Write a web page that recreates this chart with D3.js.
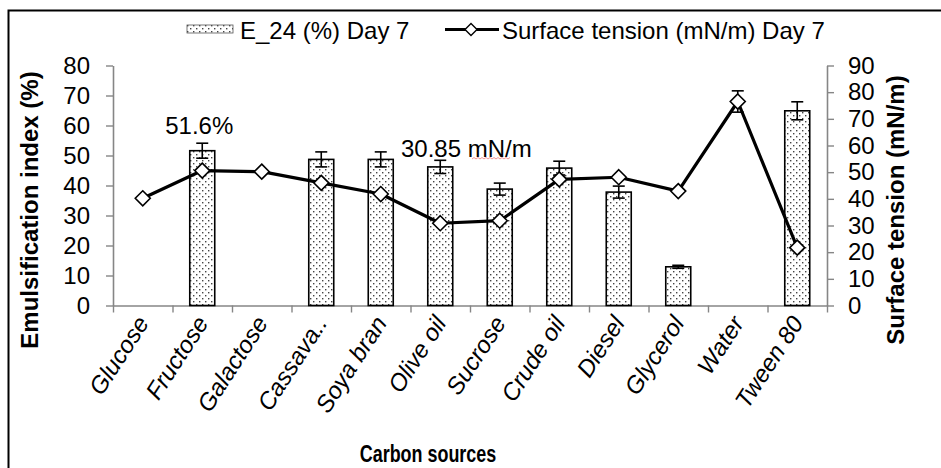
<!DOCTYPE html>
<html>
<head>
<meta charset="utf-8">
<script src="https://cdn.jsdelivr.net/npm/d3@7/dist/d3.min.js"></script>
<style>
  html, body { margin: 0; padding: 0; background: #fff; }
  svg { display: block; }
  text { font-family: "Liberation Sans", Arial, sans-serif; fill: #000; }
</style>
</head>
<body>
<svg id="chart" width="941" height="468"></svg>
<script>
// ---- data ----
const categories = ["Glucose","Fructose","Galactose","Cassava..","Soya bran","Olive oil","Sucrose","Crude oil","Diesel","Glycerol","Water","Tween 80"];
const e24Values   = [null, 51.6, null, 48.7, 48.7, 46.2, 38.8, 45.8, 37.8, 12.9, null, 64.9];
const e24Errors   = [null, 2.5,  null, 2.5,  2.5,  2.2,  2.0,  2.3,  2.0,  0.5,  null, 3.0];
const stValues    = [40.2, 50.6, 50.2, 46.0, 41.8, 30.85, 31.8, 47.3, 48.1, 42.9, 76.5, 21.7];
const stErrors    = [0, 0, 0, 0, 0, 0, 0, 0, 0, 0, 4.0, 0];
const leftTicks   = [0,10,20,30,40,50,60,70,80];
const rightTicks  = [0,10,20,30,40,50,60,70,80,90];
const seriesNames = ["E_24 (%) Day 7", "Surface tension (mN/m) Day 7"];
const annotations = ["51.6%", "30.85 mN/m"];

const svg = d3.select("#chart");
const axisColor = "#868686";

// pattern for bars
const defs = svg.append("defs");
const pat = defs.append("pattern").attr("id","dots").attr("patternUnits","userSpaceOnUse")
  .attr("width",6).attr("height",6);
pat.append("rect").attr("width",6).attr("height",6).attr("fill","#fff");
pat.append("rect").attr("x",1).attr("y",1).attr("width",1.4).attr("height",1.4).attr("fill","#444");
pat.append("rect").attr("x",4).attr("y",4).attr("width",1.4).attr("height",1.4).attr("fill","#444");

// outer border
svg.append("rect").attr("x",8.5).attr("y",10.5).attr("width",1000).attr("height",1000)
  .attr("fill","none").attr("stroke","#000").attr("stroke-width",2);

// scales
const plotL = 113, plotR = 827, plotT = 65.5, plotB = 305.5;
const x = d3.scaleBand().domain(categories).range([plotL, plotR]).padding(0);
const xIdx = d3.scaleLinear().domain([0, categories.length]).range([plotL, plotR]);
const yL = d3.scaleLinear().domain([0,80]).range([plotB, plotT]);
const yR = d3.scaleLinear().domain([0,90]).range([plotB, plotT]);

// axes
function styleAxis(g){
  g.select(".domain").attr("stroke",axisColor).attr("stroke-width",1.6);
  g.selectAll(".tick line").attr("stroke",axisColor).attr("stroke-width",1.4);
  g.selectAll(".tick text").attr("font-size",24).attr("fill","#000")
    .style("font-family",'"Liberation Sans", Arial, sans-serif');
}
svg.append("g").attr("transform",`translate(${plotL},0)`)
  .call(d3.axisLeft(yL).tickValues(leftTicks).tickSize(7).tickPadding(16).tickSizeOuter(0))
  .call(styleAxis);
svg.append("g").attr("transform",`translate(${plotR},0)`)
  .call(d3.axisRight(yR).tickValues(rightTicks).tickSize(7).tickPadding(14).tickSizeOuter(0))
  .call(styleAxis);
svg.append("g").attr("transform",`translate(0,${plotB})`)
  .call(d3.axisBottom(xIdx).tickValues(d3.range(0, categories.length+1)).tickFormat("").tickSize(7).tickSizeOuter(0))
  .call(styleAxis);

// x labels
const xLab = svg.append("g");
categories.forEach(c => {
  const cx = x(c) + x.bandwidth()/2;
  xLab.append("text")
    .attr("transform",`translate(${cx+7},${323}) rotate(-57)`)
    .attr("text-anchor","end")
    .attr("font-size",24)
    .attr("font-style","italic")
    .text(c);
});

// bars
const barW = x.bandwidth()*0.42;
const barData = categories.map((c,i)=>({c, v:e24Values[i], e:e24Errors[i]})).filter(d=>d.v!=null);
svg.append("g").selectAll("rect").data(barData).join("rect")
  .attr("x", d => x(d.c) + x.bandwidth()/2 - barW/2)
  .attr("y", d => yL(d.v))
  .attr("width", barW)
  .attr("height", d => yL(0) - yL(d.v))
  .attr("fill","url(#dots)")
  .attr("stroke","#000").attr("stroke-width",1.6);

// bar error bars
const eg = svg.append("g").attr("stroke","#000").attr("stroke-width",1.6);
barData.forEach(d => {
  const cx = x(d.c) + x.bandwidth()/2;
  eg.append("line").attr("x1",cx).attr("x2",cx).attr("y1",yL(d.v+d.e)).attr("y2",yL(d.v-d.e));
  eg.append("line").attr("x1",cx-6).attr("x2",cx+6).attr("y1",yL(d.v+d.e)).attr("y2",yL(d.v+d.e));
  eg.append("line").attr("x1",cx-6).attr("x2",cx+6).attr("y1",yL(d.v-d.e)).attr("y2",yL(d.v-d.e));
});

// line series
const stData = categories.map((c,i)=>({c, v:stValues[i], e:stErrors[i]}));
const line = d3.line().x(d => x(d.c)+x.bandwidth()/2).y(d => yR(d.v));
svg.append("path").datum(stData).attr("d",line)
  .attr("fill","none").attr("stroke","#000").attr("stroke-width",3.2).attr("stroke-linejoin","round");

// line error bars
stData.filter(d=>d.e>0).forEach(d => {
  const cx = x(d.c) + x.bandwidth()/2;
  eg.append("line").attr("x1",cx).attr("x2",cx).attr("y1",yR(d.v+d.e)).attr("y2",yR(d.v-d.e));
  eg.append("line").attr("x1",cx-6).attr("x2",cx+6).attr("y1",yR(d.v+d.e)).attr("y2",yR(d.v+d.e));
  eg.append("line").attr("x1",cx-6).attr("x2",cx+6).attr("y1",yR(d.v-d.e)).attr("y2",yR(d.v-d.e));
});

// diamond markers
const dia = (cx,cy,r) => `M${cx},${cy-r}L${cx+r},${cy}L${cx},${cy+r}L${cx-r},${cy}Z`;
svg.append("g").selectAll("path").data(stData).join("path")
  .attr("d", d => dia(x(d.c)+x.bandwidth()/2, yR(d.v), 7.5))
  .attr("fill","#fff").attr("stroke","#000").attr("stroke-width",1.6);

// annotations
svg.append("text").attr("x", x("Fructose")+x.bandwidth()/2 - 3).attr("y",134)
  .attr("text-anchor","middle").attr("font-size",24).text(annotations[0]);
svg.append("text").attr("x", 401).attr("y",157)
  .attr("font-size",24).text(annotations[1]);
// spell-check squiggle under "mN"
{
  let p = "M472,159"; let up = true;
  for (let xx = 474; xx <= 510; xx += 2) { p += `L${xx},${up?157.5:159}`; up = !up; }
  svg.append("path").attr("d",p).attr("fill","none").attr("stroke","#f08a8a").attr("stroke-width",0.9);
}

// axis titles
svg.append("text").attr("transform","translate(38,210) rotate(-90)")
  .attr("text-anchor","middle").attr("font-size",24).attr("font-weight","bold")
  .text("Emulsification index (%)");
svg.append("text").attr("transform","translate(904,210) rotate(-90)")
  .attr("text-anchor","middle").attr("font-size",24).attr("font-weight","bold")
  .text("Surface tension (mN/m)");
svg.append("text").attr("transform","translate(428,462) scale(0.78,1)")
  .attr("text-anchor","middle").attr("font-size",23).attr("font-weight","bold")
  .text("Carbon sources");

// legend
svg.append("rect").attr("x",187).attr("y",25).attr("width",46).attr("height",8)
  .attr("fill","url(#dots)").attr("stroke","#555").attr("stroke-width",0.8);
svg.append("text").attr("x",240).attr("y",39).attr("font-size",24).text(seriesNames[0]);
svg.append("line").attr("x1",445).attr("x2",499).attr("y1",29.5).attr("y2",29.5)
  .attr("stroke","#000").attr("stroke-width",3);
svg.append("path").attr("d",dia(471,29.5,6)).attr("fill","#fff").attr("stroke","#000").attr("stroke-width",1.4);
svg.append("text").attr("x",502).attr("y",39).attr("font-size",24).text(seriesNames[1]);
</script>
</body>
</html>
